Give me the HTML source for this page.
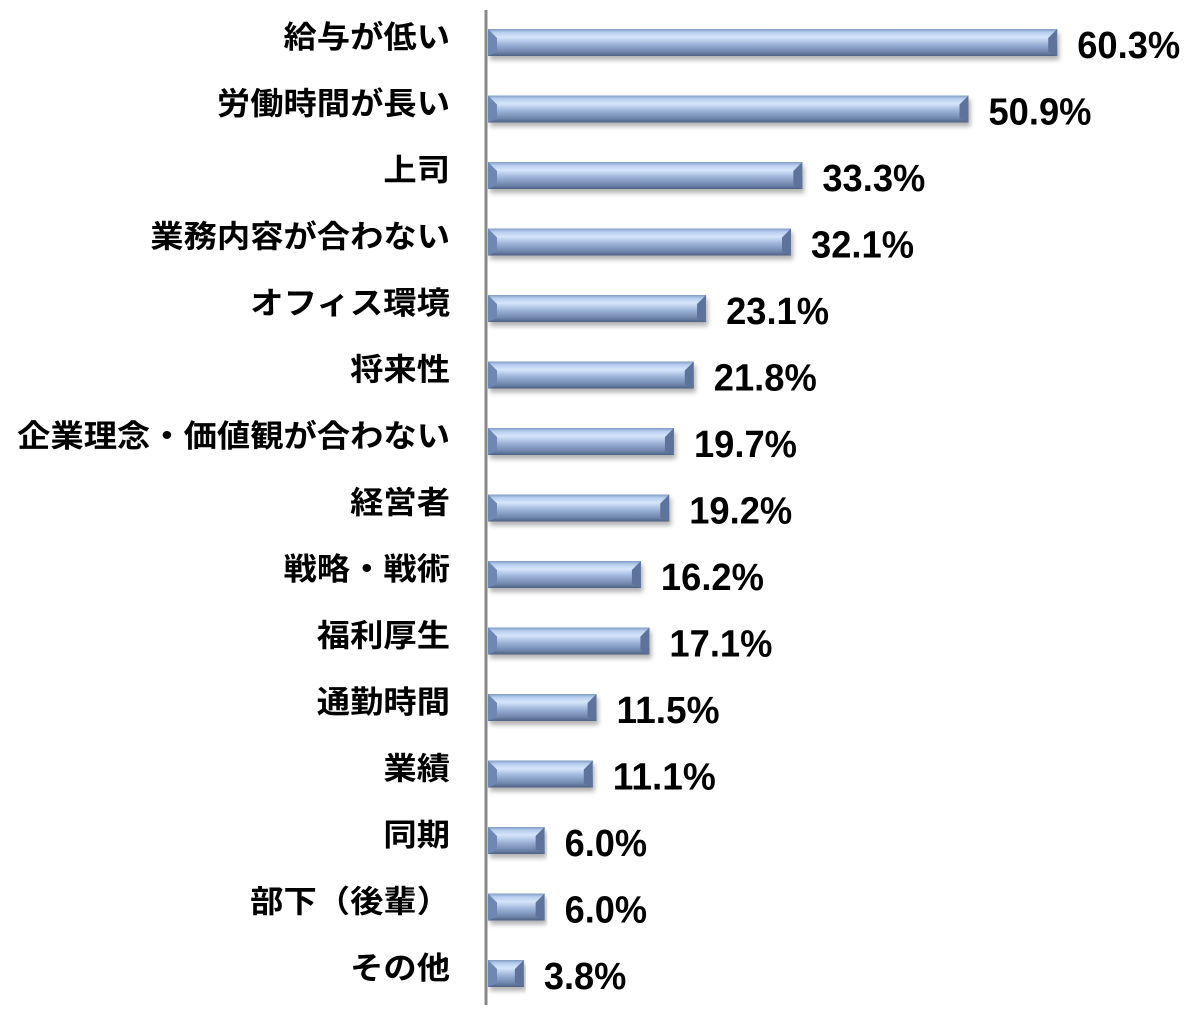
<!DOCTYPE html>
<html><head><meta charset="utf-8"><style>
html,body{margin:0;padding:0;background:#fff;}
svg{display:block}
.l{font-family:"Liberation Sans","Noto Sans CJK JP",sans-serif;font-weight:bold;font-size:31px;fill:#000;}
.v{font-family:"Liberation Sans",sans-serif;font-weight:bold;font-size:38px;fill:#000;}
</style></head><body>
<svg width="1195" height="1015" viewBox="0 0 1195 1015" xmlns="http://www.w3.org/2000/svg">
<defs>
<linearGradient id="g" x1="0" y1="0" x2="0" y2="1">
<stop offset="0" stop-color="#7f9ac4"/>
<stop offset="0.12" stop-color="#b7cdee"/>
<stop offset="0.3" stop-color="#d5e5fb"/>
<stop offset="0.55" stop-color="#9fb6da"/>
<stop offset="0.85" stop-color="#6f86ad"/>
<stop offset="1" stop-color="#4e6184"/>
</linearGradient>
<filter id="s" x="-5%" y="-30%" width="110%" height="180%"><feDropShadow dx="2" dy="4" stdDeviation="2.5" flood-color="#000" flood-opacity="0.3"/></filter>
</defs>
<g id="bars"></g>
<line x1="486" y1="10" x2="486" y2="1005" stroke="#888" stroke-width="3"/>
</svg>
<script>
var d=[["給与が低い",60.3],["労働時間が長い",50.9],["上司",33.3],["業務内容が合わない",32.1],["オフィス環境",23.1],["将来性",21.8],["企業理念・価値観が合わない",19.7],["経営者",19.2],["戦略・戦術",16.2],["福利厚生",17.1],["通勤時間",11.5],["業績",11.1],["同期",6.0],["部下（後輩）",6.0],["その他",3.8]];
var ns="http://www.w3.org/2000/svg",g=document.getElementById("bars");
function el(n,a,p){var e=document.createElementNS(ns,n);for(var k in a)e.setAttribute(k,a[k]);(p||g).appendChild(e);return e;}
d.forEach(function(r,i){
 var y=29+i*66.5,w=r[1]*9.44,x=488,h=27;
 el("rect",{x:x,y:y,width:w,height:h,fill:"url(#g)",filter:"url(#s)"});
 el("polygon",{points:x+","+y+" "+(x+9)+","+(y+9)+" "+(x+9)+","+(y+h-4)+" "+x+","+(y+h),fill:"#6f87b3"});
 el("polygon",{points:(x+w)+","+y+" "+(x+w-9)+","+(y+9)+" "+(x+w-9)+","+(y+h-4)+" "+(x+w)+","+(y+h),fill:"#5d739b"});
 var t=el("text",{x:450,y:y+19,"text-anchor":"end","class":"l",textLength:r[0].length*33.3,lengthAdjust:"spacingAndGlyphs"});t.textContent=r[0];
 var s=r[1].toFixed(1)+"%";
 var v=el("text",{x:x+w+20,y:y+29,"class":"v",textLength:s.length*20.6,lengthAdjust:"spacingAndGlyphs"});v.textContent=s;
});
</script>
</body></html>
